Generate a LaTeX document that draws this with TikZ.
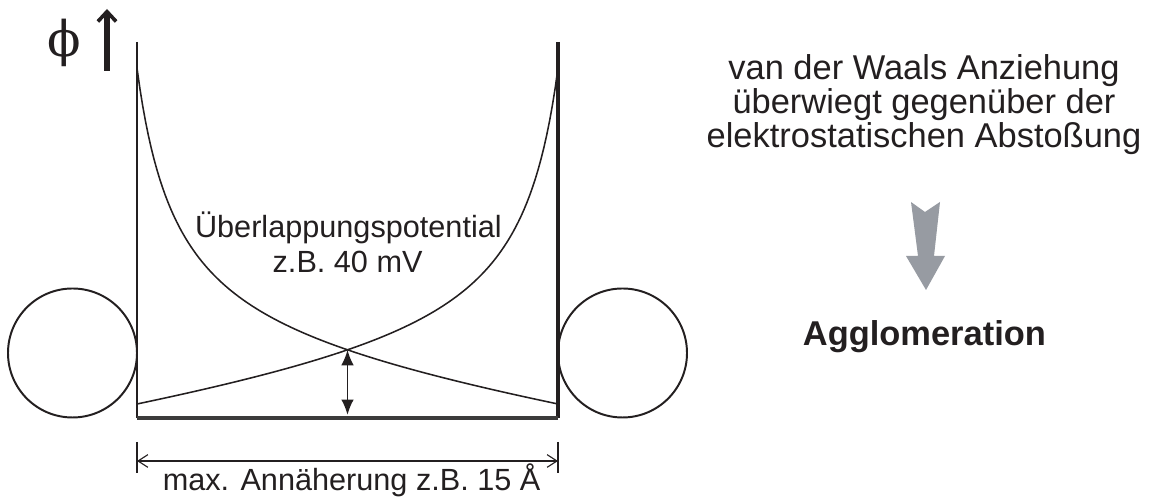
\documentclass[tikz,border=0pt]{standalone}
\usepackage{fontspec}
\setmainfont{Liberation Sans}
\newfontfamily\phifont{DejaVu Serif}
\usepackage{tikz}
\usetikzlibrary{arrows.meta}
\definecolor{AGInk}{HTML}{231F20}
\definecolor{AGFloor}{HTML}{3C3B3B}
\definecolor{AGGrey}{HTML}{979BA2}

\begin{document}
\begin{tikzpicture}[x=1cm,y=1cm,
    pot/.style={AGInk,line width=1.1pt},
    ball/.style={draw=AGInk,line width=1.4pt,circle,inner sep=0pt,minimum size=3.225cm},
    label/.style={text=AGInk,font=\fontsize{21.8}{24.9}\selectfont,inner sep=0pt},
    note/.style={text=AGInk,font=\fontsize{24.5}{24.2}\selectfont,inner sep=0pt,align=center}]
  \useasboundingbox (0,0) rectangle (28.8,12.425);
  % axis
  \node[text=AGInk,font=\fontsize{35}{35}\phifont,inner sep=0pt] (phi) at (1.6,11.35) {ϕ};
  \coordinate (ybot) at (2.675,10.65);
  \coordinate (ytop) at (2.675,12.2);
  \draw[AGInk,line width=3.6pt,-{Straight Barb[length=7pt,width=13pt,line width=2.6pt]}] (ybot) -- (ytop);
  % walls and floor
  \coordinate (lwall) at (3.425,11.375);
  \coordinate (lfoot) at (3.425,1.975);
  \coordinate (rwall) at (13.95,11.375);
  \coordinate (rfoot) at (13.95,1.975);
  \draw[AGInk,line width=1.2pt] (lwall) -- (lfoot);
  \draw[AGInk,line width=2.8pt] (rwall) -- (rfoot);
  \draw[AGFloor,line width=2.6pt] (lfoot) -- (rfoot);
  % particles
  \node[ball] (lball) at (1.8125,3.6) {};
  \node[ball] (rball) at (15.5625,3.6) {};
  % potentials
  \draw[pot] plot[domain=0:10.525,samples=150] ({3.425+\x},{2.325+7.416/(\x+1)-0.6435+0.1546*(10.525-\x)});
  \draw[pot] plot[domain=0:10.525,samples=150] ({13.95-\x},{2.325+7.416/(\x+1)-0.6435+0.1546*(10.525-\x)});
  \coordinate (cross) at (8.6875,3.679);
  \coordinate (gap) at (8.6875,2.05);
  \draw[AGInk,line width=1.4pt,{Latex[length=11pt,width=9pt]}-{Latex[length=11pt,width=9pt]}] (cross) -- (gap);
  \node[label,anchor=base] (olap) at (8.71,6.475) {Überlappungspotential};
  \node[label,anchor=base] (olapval) at (8.69,5.6) {z.B. 40 mV};
  % distance
  \coordinate (dl) at (3.425,0.9);
  \coordinate (dr) at (13.95,0.9);
  \draw[AGInk,line width=1.2pt,{Straight Barb[length=7pt,width=9pt,line width=0.8pt]}-{Straight Barb[length=7pt,width=9pt,line width=0.8pt]}] (dl) -- (dr);
  \draw[AGInk,line width=1.3pt] ([yshift=0.475cm]dl) -- ([yshift=-0.3cm]dl);
  \draw[AGInk,line width=1.3pt] ([yshift=0.475cm]dr) -- ([yshift=-0.3cm]dr);
  \node[label,anchor=base] (dist) at (8.79,0.16) {max. Annäherung z.B. 15 Å};
  % result
  \node[note,anchor=base] (vdw) at (23.1,8.725) {van der Waals Anziehung\\überwiegt gegenüber der\\elektrostatischen Abstoßung};
  \fill[AGGrey] (22.775,7.375) -- (23.125,7.125) -- (23.5,7.375) -- (23.35,6.025) -- (23.625,6.025) -- (23.15,5.175) -- (22.65,6.025) -- (22.95,6.025) -- cycle;
  \node[note,font=\fontsize{24.5}{24.2}\selectfont\bfseries,anchor=base] (aggl) at (23.11,3.775) {Agglomeration};
\end{tikzpicture}
\end{document}
